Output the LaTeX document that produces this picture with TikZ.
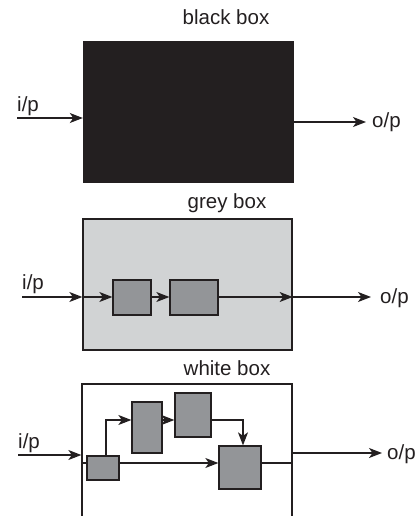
\documentclass[tikz,border=0pt]{standalone}
\usepackage{fontspec}
\setmainfont{Liberation Sans}
\usetikzlibrary{arrows.meta}
\definecolor{ink}{HTML}{231F20}
\definecolor{paleg}{HTML}{D1D3D4}
\definecolor{midg}{HTML}{939598}
\tikzset{
  lbl/.style={inner sep=0pt, font=\fontsize{20.5}{23}\selectfont, text=ink},
  arr/.style={draw=ink, line width=1.2pt,
    -{Stealth[length=13pt,width=10pt,inset=3.5pt]}},
  wire/.style={draw=ink, line width=1.2pt},
  ibox/.style={draw=ink, line width=1.3pt, fill=midg, inner sep=0pt},
  outer/.style={draw=ink, line width=1.3pt, inner sep=0pt},
}
\begin{document}
\begin{tikzpicture}[x=1pt,y=-1pt]
\useasboundingbox (0,0) rectangle (415,516);
\clip (0,0) rectangle (415,516);

% ---- black box ----
\node[fill=ink, inner sep=0pt, minimum width=211pt, minimum height=142pt] (bb) at (188.5,112) {};
\node[lbl, anchor=base] (bbt) at (226,25) {black box};
\coordinate (bin) at (17,118);
\coordinate (bout) at (366,122);
\draw[arr] (bin) -- (bb.west |- bin);
\draw[arr] (bb.east |- bout) -- (bout);
\node[lbl, anchor=base west] (bip) at (17,112) {i/p};
\node[lbl, anchor=base west] (bop) at (372,128) {o/p};

% ---- grey box ----
\node[outer, fill=paleg, minimum width=209pt, minimum height=131pt] (gb) at (187.5,284.5) {};
\node[lbl, anchor=base] (gbt) at (227,208) {grey box};
\node[ibox, minimum width=38pt, minimum height=35pt] (g1) at (132,297.5) {};
\node[ibox, minimum width=48pt, minimum height=35pt] (g2) at (194,297.5) {};
\coordinate (gin) at (22,297);
\coordinate (gout) at (371,297);
\draw[arr] (gin) -- (gb.west |- gin);
\draw[arr] (gb.west |- gin) -- (g1.west |- gin);
\draw[arr] (g1.east |- gin) -- (g2.west |- gin);
\draw[arr] (g2.east |- gin) -- (gb.east |- gin);
\draw[arr] (gb.east |- gin) -- (gout);
\node[lbl, anchor=base west] (gip) at (22,289) {i/p};
\node[lbl, anchor=base west] (gop) at (380,303) {o/p};

% ---- white box ----
\node[outer, fill=white, minimum width=210pt, minimum height=146pt] (wb) at (187,457) {};
\node[lbl, anchor=base] (wbt) at (227,375) {white box};
\node[ibox, minimum width=32pt, minimum height=24pt] (wa) at (103,468) {};
\node[ibox, minimum width=30pt, minimum height=51pt] (wbx) at (147,427.5) {};
\node[ibox, minimum width=36pt, minimum height=44pt] (wc) at (193,415) {};
\node[ibox, minimum width=42pt, minimum height=43pt] (wd) at (240,467.5) {};
\coordinate (win) at (18,455);
\coordinate (wrow) at (0,463);
\coordinate (brow) at (0,420);
\coordinate (wout) at (382,453);
\draw[arr] (win) -- (wb.west |- win);
\draw[wire] (wb.west |- wrow) -- (wa.west |- wrow);
\draw[arr] ([xshift=3pt]wa.north) |- (wbx.west |- brow);
\draw[arr] (wbx.east |- brow) -- (wc.west |- brow);
\draw[arr] (wc.east |- brow) -| ([xshift=3pt]wd.north);
\draw[arr] (wa.east |- wrow) -- (wd.west |- wrow);
\draw[wire] (wd.east |- wrow) -- (wb.east |- wrow);
\draw[arr] (wb.east |- wout) -- (wout);
\node[lbl, anchor=base west] (wip) at (18,448) {i/p};
\node[lbl, anchor=base west] (wop) at (387,459) {o/p};
\end{tikzpicture}
\end{document}
